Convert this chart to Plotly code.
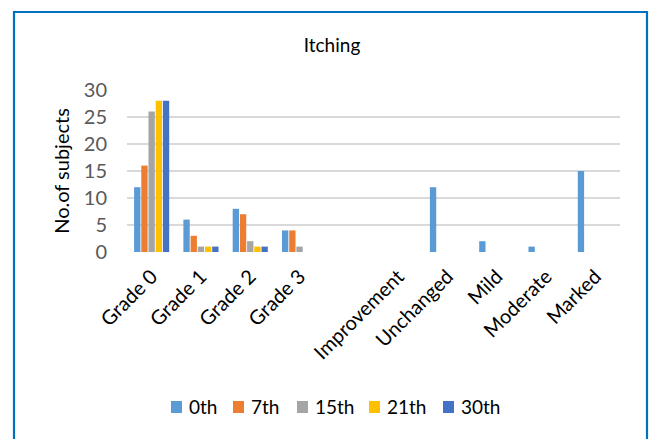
import plotly.graph_objects as go

# Categories along the x axis; the empty entry is a spacer column
categories = ["Grade 0", "Grade 1", "Grade 2", "Grade 3", "",
              "Improvement", "Unchanged", "Mild", "Moderate", "Marked"]

# Number of subjects per assessment day
day_0 = [12, 6, 8, 4, None, None, 12, 2, 1, 15]
day_7 = [16, 3, 7, 4, None, None, None, None, None, None]
day_15 = [26, 1, 2, 1, None, None, None, None, None, None]
day_21 = [28, 1, 1, 0, None, None, None, None, None, None]
day_30 = [28, 1, 1, 0, None, None, None, None, None, None]

series_names = ["0th", "7th", "15th", "21th", "30th"]
series_values = [day_0, day_7, day_15, day_21, day_30]
series_colors = ["#5B9BD5", "#ED7D31", "#A5A5A5", "#FFC000", "#4472C4"]

y_ticks = [0, 5, 10, 15, 20, 25, 30]

FONT = "Lato, 'Open Sans', sans-serif"
W, H = 653, 439
L, R, T, B = 127, 33, 90, 187

x_pos = list(range(len(categories)))

fig = go.Figure()
for name, vals, color in zip(series_names, series_values, series_colors):
    fig.add_trace(go.Bar(
        x=x_pos, y=vals, name=name,
        marker=dict(color=color, line=dict(width=0)),
        showlegend=False,
    ))

plot_w = W - L - R
plot_h = H - T - B


def px_x(p):
    return (p - L) / plot_w


def px_y(p):
    return (H - B - p) / plot_h


fig.update_layout(
    width=W, height=H,
    margin=dict(l=L, r=R, t=T, b=B),
    paper_bgcolor="white",
    plot_bgcolor="white",
    barmode="group",
    bargap=0.27,
    bargroupgap=0.12,
    font=dict(family=FONT, color="#000000"),
    title=dict(text="Itching", x=332 / W, xanchor="center",
               y=1 - 45 / H, yanchor="middle", yref="container",
               font=dict(size=19, color="#000000", family=FONT)),
    xaxis=dict(
        range=[-0.5, len(categories) - 0.5],
        tickmode="array", tickvals=x_pos, ticktext=categories,
        tickangle=-45, tickfont=dict(size=20, color="#000000"),
        ticklabelstandoff=8,
        showgrid=False, zeroline=False, showline=False, ticks="",
    ),
    yaxis=dict(
        range=[0, 30], tickmode="array", tickvals=y_ticks,
        tickfont=dict(size=20, color="#595959"),
        ticklabelstandoff=19,
        showgrid=True, gridcolor="#D9D9D9", gridwidth=1.5,
        zeroline=False, showline=False, ticks="",
        title=dict(text="No.of subjects", font=dict(size=20, color="#000000"),
                   standoff=8),
    ),
    showlegend=False,
)

# Legend row beneath the axis labels: colour key square followed by its name
legend_left = [171, 233, 297, 369, 443]
legend_mid = 407
for left, name, color in zip(legend_left, series_names, series_colors):
    fig.add_shape(type="rect", xref="paper", yref="paper",
                  x0=px_x(left), x1=px_x(left + 11),
                  y0=px_y(legend_mid - 6), y1=px_y(legend_mid + 6),
                  fillcolor=color, line=dict(width=0))
    fig.add_annotation(x=px_x(left + 16), y=px_y(legend_mid - 1),
                       xref="paper", yref="paper",
                       xanchor="left", yanchor="middle", showarrow=False,
                       text=name, font=dict(size=19, color="#000000", family=FONT))

# Chart frame
fig.add_shape(type="rect", xref="paper", yref="paper",
              x0=px_x(14), x1=px_x(647), y0=px_y(12), y1=px_y(445),
              line=dict(color="#0070C0", width=2.2), fillcolor="rgba(0,0,0,0)",
              layer="below")

fig.write_html("out.html")
